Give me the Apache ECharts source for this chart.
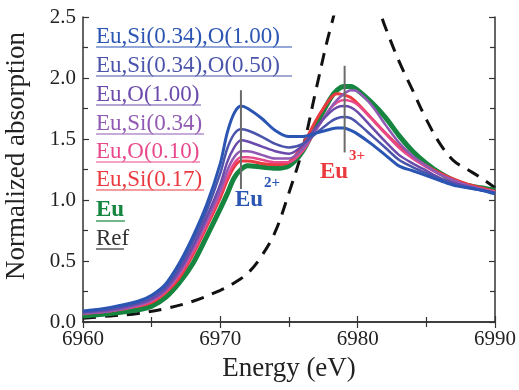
<!DOCTYPE html>
<html>
<head>
<meta charset="utf-8">
<script src="https://cdn.jsdelivr.net/npm/echarts@6/dist/echarts.min.js"></script>
<style>
html,body{margin:0;padding:0;background:#fff;}
#main{width:519px;height:390px;}
</style>
</head>
<body>
<div id="main"></div>
<script>
// energy grid (eV) shared by the sample spectra
var energy = [6960,6962,6964,6965,6966,6967,6968,6969,6970,6970.5,6971,6971.5,6972,6973,6974,6975,6976,6977,6978,6978.5,6979,6979.5,6980,6981,6982,6983,6984,6985,6986,6987,6988,6989,6990];

var euSiO100 = [0.09,0.12,0.17,0.22,0.31,0.48,0.70,0.96,1.30,1.55,1.71,1.77,1.75,1.67,1.57,1.52,1.52,1.55,1.58,1.59,1.59,1.57,1.54,1.46,1.37,1.28,1.24,1.20,1.16,1.12,1.10,1.08,1.05];
var euSiO050 = [0.08,0.11,0.16,0.21,0.29,0.45,0.66,0.91,1.22,1.42,1.54,1.58,1.57,1.52,1.46,1.43,1.46,1.55,1.64,1.67,1.68,1.67,1.63,1.53,1.43,1.33,1.27,1.22,1.17,1.13,1.10,1.08,1.06];
var euO100   = [0.08,0.10,0.15,0.19,0.27,0.42,0.62,0.86,1.13,1.31,1.43,1.49,1.48,1.44,1.40,1.38,1.45,1.60,1.72,1.76,1.77,1.76,1.72,1.60,1.48,1.37,1.30,1.24,1.18,1.14,1.11,1.08,1.06];
var euSi034  = [0.07,0.09,0.14,0.18,0.26,0.40,0.60,0.83,1.08,1.24,1.35,1.40,1.40,1.37,1.34,1.34,1.42,1.58,1.75,1.82,1.87,1.90,1.89,1.78,1.62,1.47,1.36,1.28,1.21,1.16,1.12,1.09,1.06];
var euO010   = [0.07,0.09,0.13,0.17,0.25,0.38,0.57,0.80,1.05,1.19,1.30,1.35,1.35,1.33,1.31,1.31,1.40,1.58,1.75,1.80,1.82,1.81,1.78,1.67,1.55,1.43,1.34,1.27,1.21,1.16,1.12,1.09,1.07];
var euSi017  = [0.07,0.09,0.13,0.16,0.24,0.36,0.55,0.78,1.02,1.16,1.27,1.32,1.32,1.30,1.29,1.31,1.45,1.66,1.83,1.87,1.86,1.84,1.79,1.67,1.55,1.44,1.35,1.28,1.22,1.17,1.13,1.10,1.07];
var euOnly   = [0.05,0.07,0.10,0.13,0.20,0.32,0.48,0.70,0.93,1.05,1.18,1.25,1.28,1.27,1.26,1.28,1.40,1.62,1.83,1.90,1.93,1.93,1.90,1.80,1.68,1.53,1.40,1.30,1.22,1.16,1.12,1.10,1.08];

// reference spectrum (dashed)
var refEnergy = [6960,6962,6964,6966,6968,6970,6971,6972,6973,6974,6975,6976,6977,6978,6979,6980,6981,6982,6983,6984,6985,6986,6987,6988,6989,6990];
var refValues = [0.03,0.05,0.07,0.11,0.17,0.26,0.32,0.40,0.54,0.74,1.06,1.42,1.92,2.40,2.75,2.85,2.72,2.42,2.14,1.90,1.66,1.46,1.32,1.25,1.18,1.10];

// Eu2+ / Eu3+ marker lines
var eu2Marker = [[6971.5,1.09],[6971.5,1.90]];
var eu3Marker = [[6979.05,1.39],[6979.05,2.10]];

var legendNames = ['Eu,Si(0.34),O(1.00)','Eu,Si(0.34),O(0.50)','Eu,O(1.00)','Eu,Si(0.34)','Eu,O(0.10)','Eu,Si(0.17)','Eu','Ref'];
var legendColors = ['#2b55b3','#4a54aa','#6a4aab','#9059b3','#e8488c','#ea3a40','#15853f','#333333'];

var FONT = '"Liberation Serif","Times New Roman",serif';

function pairs(xs, ys) {
    var out = [];
    for (var i = 0; i < xs.length; i++) out.push([xs[i], ys[i]]);
    return out;
}

var myChart = echarts.init(document.getElementById('main'));

var sampleSeries = [
    {name: 'Eu', data: euOnly, color: legendColors[6], width: 5},
    {name: 'Eu,Si(0.17)', data: euSi017, color: legendColors[5], width: 3},
    {name: 'Eu,O(0.10)', data: euO010, color: legendColors[4], width: 2.5},
    {name: 'Eu,Si(0.34)', data: euSi034, color: legendColors[3], width: 2.5},
    {name: 'Eu,O(1.00)', data: euO100, color: legendColors[2], width: 2.5},
    {name: 'Eu,Si(0.34),O(0.50)', data: euSiO050, color: legendColors[1], width: 2.5},
    {name: 'Eu,Si(0.34),O(1.00)', data: euSiO100, color: legendColors[0], width: 3}
];

var series = [];
series.push({
    name: 'Ref',
    type: 'line',
    data: pairs(refEnergy, refValues),
    smooth: 0.35,
    showSymbol: false,
    clip: true,
    lineStyle: {color: '#111', width: 3, type: [13, 9]},
    z: 1
});
sampleSeries.forEach(function (s, i) {
    series.push({
        name: s.name,
        type: 'line',
        data: pairs(energy, s.data),
        smooth: 0.3,
        showSymbol: false,
        clip: true,
        lineStyle: {color: s.color, width: s.width},
        z: 2 + i
    });
});
[eu2Marker, eu3Marker].forEach(function (m) {
    series.push({
        type: 'line',
        data: m,
        showSymbol: false,
        lineStyle: {color: '#6b6b6b', width: 2},
        z: 20
    });
});

// legend drawn as underlined coloured text
var graphics = [];
var rowY = [47, 76, 105, 134, 162, 190, 221, 249];
var lineEnds = [292, 292, 201, 204, 200, 204, 125, 124];
legendNames.forEach(function (name, i) {
    graphics.push({
        type: 'text',
        left: 96,
        top: rowY[i] - 22,
        style: {
            text: name,
            fill: legendColors[i],
            font: (i == 6 ? 'bold ' : '') + '23px ' + FONT
        },
        z: 50
    });
    graphics.push({
        type: 'line',
        shape: {x1: 96, y1: rowY[i], x2: lineEnds[i], y2: rowY[i]},
        style: {stroke: legendColors[i], lineWidth: 1.2},
        z: 50
    });
});

// Eu2+ and Eu3+ labels
graphics.push({type: 'text', left: 235, top: 189, style: {text: 'Eu', fill: '#2b55b3', font: 'bold 23px ' + FONT}, z: 50});
graphics.push({type: 'text', left: 264, top: 176, style: {text: '2+', fill: '#2b55b3', font: 'bold 15px ' + FONT}, z: 50});
graphics.push({type: 'text', left: 320, top: 161, style: {text: 'Eu', fill: '#ea3a40', font: 'bold 23px ' + FONT}, z: 50});
graphics.push({type: 'text', left: 349, top: 149, style: {text: '3+', fill: '#ea3a40', font: 'bold 15px ' + FONT}, z: 50});

// axis titles
graphics.push({
    type: 'text',
    x: 17, y: 156,
    rotation: Math.PI / 2,
    style: {text: 'Normalized absorption', fill: '#222', font: '27px ' + FONT, align: 'center', verticalAlign: 'middle'}
});
graphics.push({
    type: 'text',
    x: 289, y: 369,
    style: {text: 'Energy (eV)', fill: '#222', font: '27px ' + FONT, align: 'center', verticalAlign: 'middle'}
});

var axisLine = {lineStyle: {color: '#333', width: 1.5}};
var tick = {inside: true, length: 6, lineStyle: {color: '#333', width: 1.2}};
var minor = {show: true, splitNumber: 2, length: 5, lineStyle: {color: '#333', width: 1.2}};

var option = {
    animation: false,
    backgroundColor: '#fff',
    grid: {left: 83, right: 24, top: 17, bottom: 68},
    xAxis: [
        {
            type: 'value', min: 6960, max: 6990, interval: 10,
            axisLine: axisLine, axisTick: tick, minorTick: minor,
            splitLine: {show: false},
            axisLabel: {
                color: '#222', fontFamily: FONT, fontSize: 21, margin: 7,
                formatter: function (v) { return String(v); }
            }
        },
        {
            type: 'value', position: 'top', min: 6960, max: 6990, interval: 10,
            axisLine: axisLine, axisTick: tick, minorTick: minor,
            splitLine: {show: false}, axisLabel: {show: false}
        }
    ],
    yAxis: [
        {
            type: 'value', min: 0, max: 2.5, interval: 0.5,
            axisLine: axisLine, axisTick: tick, minorTick: minor,
            splitLine: {show: false},
            axisLabel: {
                color: '#222', fontFamily: FONT, fontSize: 21, margin: 7,
                formatter: function (v) { return v.toFixed(1); }
            }
        },
        {
            type: 'value', position: 'right', min: 0, max: 2.5, interval: 0.5,
            axisLine: axisLine, axisTick: tick, minorTick: minor,
            splitLine: {show: false}, axisLabel: {show: false}
        }
    ],
    series: series,
    graphic: graphics
};
myChart.setOption(option);
</script>
</body>
</html>
